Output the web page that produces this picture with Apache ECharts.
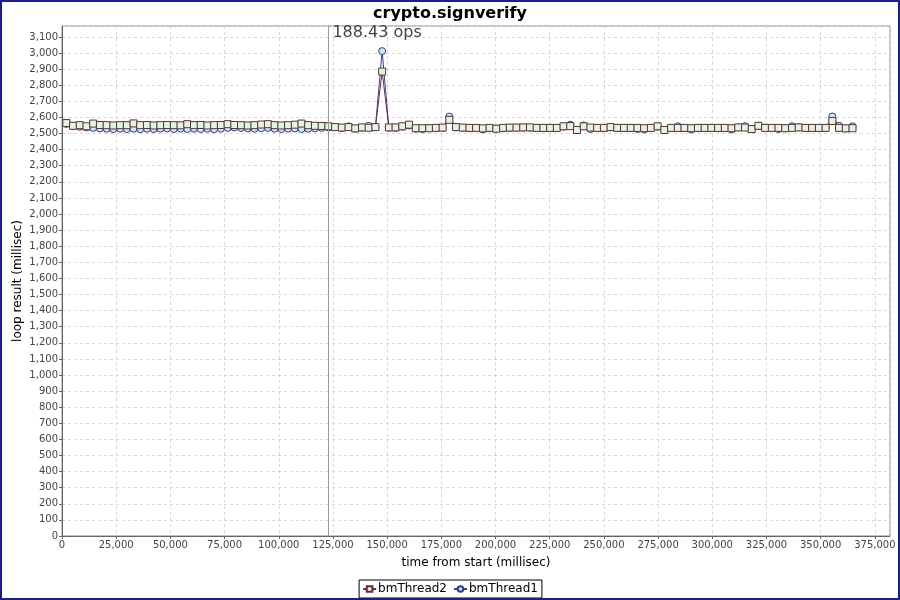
<!DOCTYPE html>
<html>
<head>
<meta charset="utf-8">
<script src="https://cdn.jsdelivr.net/npm/echarts@6/dist/echarts.min.js"></script>
<style>
  html, body { margin: 0; padding: 0; background: #fff; }
  #chart { width: 900px; height: 600px; }
</style>
</head>
<body>
<div id="chart"></div>
<script>
const chartTitle = 'crypto.signverify';
const seriesNames = ['bmThread2', 'bmThread1'];
const markerTime = 122900;
const markerLabel = '188.43 ops';

const times = [
  2000, 5100, 8200, 11300, 14400, 17500, 20600, 23700, 26800, 29900,
  33000, 36100, 39200, 42300, 45400, 48500, 51600, 54700, 57800, 60900,
  64000, 67100, 70200, 73300, 76400, 79500, 82600, 85700, 88800, 91900,
  95000, 98100, 101200, 104300, 107400, 110500, 113600, 116700, 119800, 122900,
  126000, 129100, 132200, 135300, 138400, 141500, 144600, 147700, 150800, 153900,
  157000, 160100, 163200, 166300, 169400, 172500, 175600, 178700, 181800, 184900,
  188000, 191100, 194200, 197300, 200400, 203500, 206600, 209700, 212800, 215900,
  219000, 222100, 225200, 228300, 231400, 234500, 237600, 240700, 243800, 246900,
  250000, 253100, 256200, 259300, 262400, 265500, 268600, 271700, 274800, 277900,
  281000, 284100, 287200, 290300, 293400, 296500, 299600, 302700, 305800, 308900,
  312000, 315100, 318200, 321300, 324400, 327500, 330600, 333700, 336800, 339900,
  343000, 346100, 349200, 352300, 355400, 358500, 361600, 364700
];

const bmThread2 = [
  2565, 2548, 2552, 2545, 2562, 2553, 2552, 2550, 2552, 2552,
  2563, 2552, 2553, 2550, 2552, 2553, 2552, 2551, 2558, 2552,
  2553, 2550, 2552, 2553, 2558, 2553, 2552, 2550, 2552, 2556,
  2558, 2552, 2550, 2552, 2555, 2562, 2552, 2548, 2547, 2545,
  2540, 2537, 2540, 2532, 2538, 2536, 2540, 2885, 2538, 2538,
  2545, 2555, 2533, 2533, 2533, 2535, 2537, 2585, 2540, 2537,
  2535, 2535, 2532, 2535, 2530, 2535, 2537, 2537, 2538, 2538,
  2535, 2535, 2535, 2535, 2545, 2546, 2522, 2545, 2537, 2535,
  2535, 2540, 2535, 2535, 2535, 2535, 2533, 2535, 2545, 2522,
  2535, 2535, 2535, 2533, 2535, 2535, 2535, 2535, 2535, 2533,
  2538, 2537, 2528, 2548, 2535, 2535, 2535, 2533, 2535, 2538,
  2535, 2535, 2535, 2535, 2578, 2535, 2532, 2533
];

const bmThread1 = [
  2560, 2545, 2542, 2538, 2535, 2532, 2530, 2528, 2530, 2528,
  2530, 2527, 2530, 2528, 2530, 2532, 2528, 2530, 2528, 2530,
  2528, 2530, 2527, 2530, 2535, 2538, 2535, 2532, 2530, 2533,
  2535, 2530, 2528, 2530, 2532, 2528, 2530, 2532, 2535, 2538,
  2540, 2535, 2545, 2530, 2536, 2548, 2540, 3012, 2536, 2535,
  2543, 2550, 2530, 2528, 2533, 2535, 2535, 2605, 2538, 2535,
  2533, 2535, 2526, 2533, 2530, 2533, 2535, 2535, 2536, 2536,
  2535, 2533, 2535, 2535, 2543, 2555, 2522, 2550, 2528, 2535,
  2533, 2538, 2535, 2535, 2533, 2528, 2526, 2535, 2543, 2522,
  2535, 2545, 2533, 2526, 2533, 2535, 2535, 2533, 2535, 2526,
  2538, 2546, 2528, 2546, 2535, 2535, 2528, 2533, 2545, 2538,
  2535, 2535, 2533, 2535, 2606, 2548, 2532, 2545
];

const xMin = 0, xMax = 382000, xStep = 25000;
const yMin = 0, yMax = 3168, yStep = 100;

const fmt = v => Math.round(v).toLocaleString('en-US');
const pairs = vals => times.map((t, i) => [t, vals[i]]);

const chart = echarts.init(document.getElementById('chart'), null, { renderer: 'canvas' });
const tickFont = { fontFamily: 'DejaVu Sans', fontSize: 10, color: '#444' };

chart.setOption({
  animation: false,
  backgroundColor: '#fff',
  title: {
    text: chartTitle,
    left: 'center',
    top: 1,
    textStyle: { fontFamily: 'DejaVu Sans', fontSize: 16, fontWeight: 'bold', color: '#000' }
  },
  graphic: [{
    type: 'rect',
    shape: { x: 1, y: 1, width: 898, height: 598 },
    style: { fill: 'none', stroke: '#1c1c96', lineWidth: 2 },
    silent: true,
    z: 100
  }],
  legend: {
    data: seriesNames,
    bottom: 2,
    left: 'center',
    itemWidth: 13,
    itemHeight: 7,
    itemGap: 6,
    padding: [3, 4, 3, 3],
    borderColor: '#000',
    borderWidth: 1,
    textStyle: { fontFamily: 'DejaVu Sans', fontSize: 12, color: '#000', padding: [0, 0, 0, -3] }
  },
  grid: { left: 62, right: 10, top: 26, bottom: 64, show: true, borderColor: '#888', borderWidth: 1 },
  xAxis: {
    type: 'value',
    min: xMin, max: xMax, interval: xStep,
    name: 'time from start (millisec)',
    nameLocation: 'middle',
    nameGap: 21,
    nameMoveOverlap: false,
    nameTextStyle: { fontFamily: 'DejaVu Sans', fontSize: 12, color: '#000' },
    axisLine: { show: true, lineStyle: { color: '#666' } },
    axisTick: { show: true, length: 3, lineStyle: { color: '#666' } },
    axisLabel: Object.assign({ formatter: fmt, margin: 4, showMaxLabel: false }, tickFont),
    splitLine: { show: true, lineStyle: { color: '#d8d8d8', type: [3, 3] } }
  },
  yAxis: {
    type: 'value',
    min: yMin, max: yMax, interval: yStep,
    name: 'loop result (millisec)',
    nameLocation: 'middle',
    nameGap: 38,
    nameMoveOverlap: false,
    nameTextStyle: { fontFamily: 'DejaVu Sans', fontSize: 12, color: '#000' },
    axisLine: { show: true, lineStyle: { color: '#666' } },
    axisTick: { show: true, length: 3, lineStyle: { color: '#666' } },
    axisLabel: Object.assign({ formatter: fmt, margin: 4, showMaxLabel: false }, tickFont),
    splitLine: { show: true, lineStyle: { color: '#d8d8d8', type: [3, 3] } }
  },
  series: [
    {
      name: seriesNames[1],
      type: 'line',
      data: pairs(bmThread1),
      symbol: 'circle',
      symbolSize: 7,
      showAllSymbol: true,
      lineStyle: { color: '#33438c', width: 1 },
      itemStyle: { color: '#cde8f7', borderColor: '#2c3c88', borderWidth: 1 },
      z: 2
    },
    {
      name: seriesNames[0],
      type: 'line',
      data: pairs(bmThread2),
      symbol: 'rect',
      symbolSize: 7,
      showAllSymbol: true,
      lineStyle: { color: '#6e2f45', width: 1 },
      itemStyle: { color: '#dcf6e8', borderColor: '#6b2b2b', borderWidth: 1 },
      z: 3,
      markLine: {
        silent: true,
        symbol: 'none',
        label: { show: false },
        lineStyle: { color: '#999', type: 'solid', width: 1 },
        data: [{ xAxis: markerTime }]
      },
      markPoint: {
        silent: true,
        symbol: 'circle',
        symbolSize: 0,
        data: [{ coord: [markerTime, yMax] }],
        label: {
          show: true,
          formatter: markerLabel,
          position: 'right',
          distance: 4,
          offset: [0, 7],
          fontFamily: 'DejaVu Sans',
          fontSize: 16,
          color: '#444'
        }
      }
    }
  ]
});
</script>
</body>
</html>
